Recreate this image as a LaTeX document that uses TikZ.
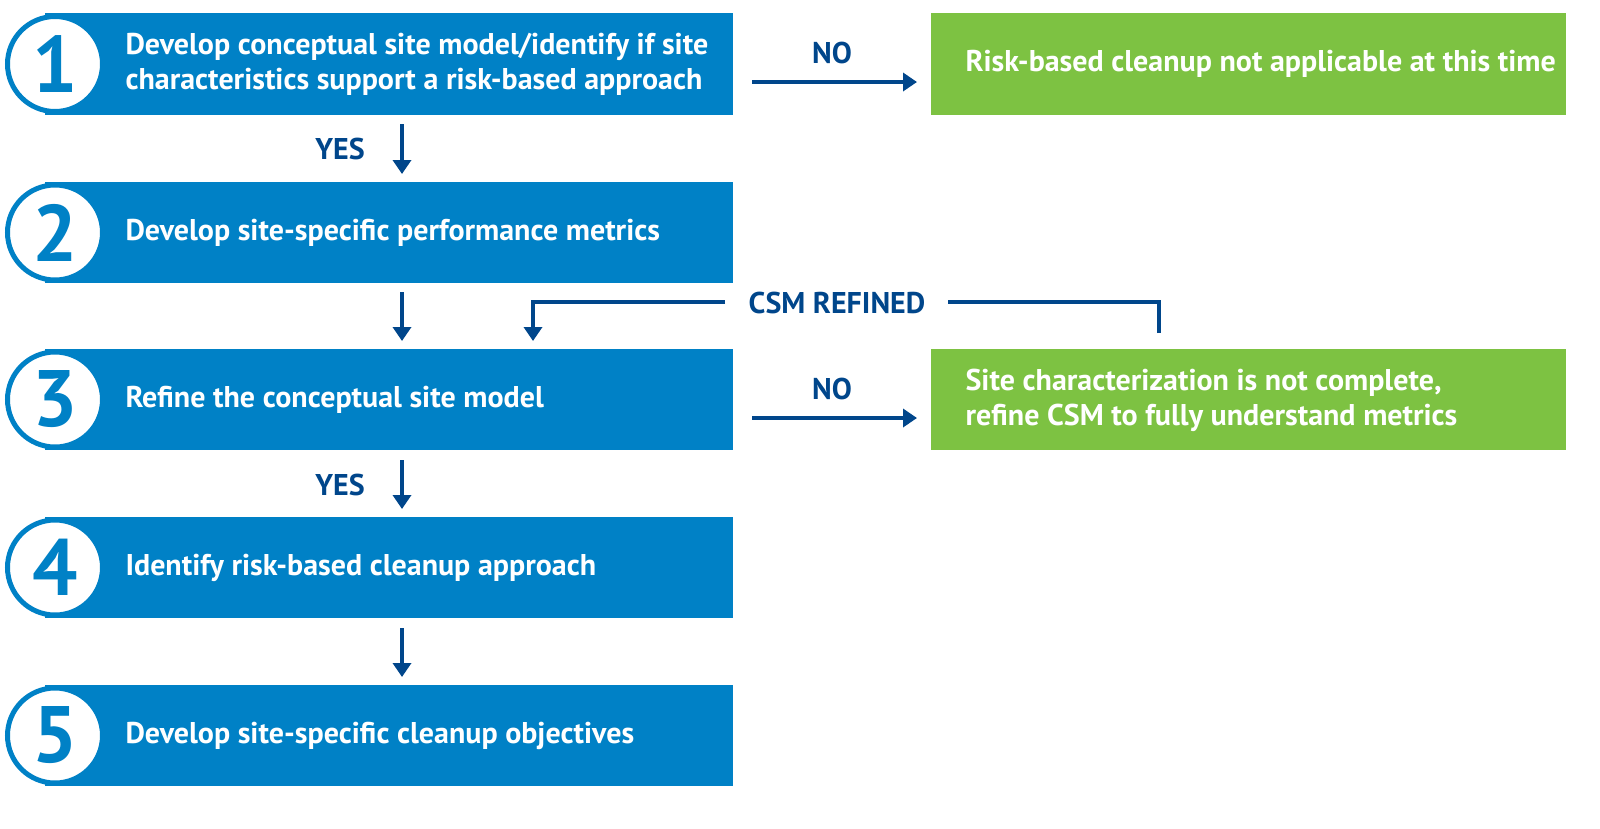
\documentclass[tikz,border=0pt]{standalone}
\usepackage{fontspec}
\setmainfont{PT Sans}
\usetikzlibrary{arrows.meta}
\definecolor{bx}{HTML}{0081C6}
\definecolor{ar}{HTML}{00468B}
\definecolor{gr}{HTML}{7DC242}
\begin{document}
\begin{tikzpicture}[x=1pt,y=-1pt,
 box/.style={fill=bx,inner sep=0},
 gbox/.style={fill=gr,inner sep=0},
 txt/.style={text=white,font=\bfseries\fontsize{30}{35}\selectfont,align=left,anchor=west},
 num/.style={circle,draw=bx,line width=5pt,fill=white,minimum size=95pt,inner sep=0,text=bx,font=\bfseries\fontsize{80}{80}\selectfont},
 arr/.style={draw=ar,line width=4pt,-{Triangle[length=14pt,width=18pt]}},
 lin/.style={draw=ar,line width=4pt},
 lab/.style={text=ar,font=\bfseries\fontsize{30}{30}\selectfont}]
\useasboundingbox (0,0) rectangle (1600,828);
\foreach \i/\t/\b/\s in {1/13/115/{Develop conceptual site model/identify if site\\characteristics support a risk-based approach},
 2/182/283/{Develop site-specific performance metrics},
 3/349/450/{Refine the conceptual site model},
 4/517/618/{Identify risk-based cleanup approach},
 5/685/786/{Develop site-specific cleanup objectives}}{
 \path[box] (45,\t) rectangle (733,\b) coordinate (b\i);
 \node[num] (c\i) at (55,{(\t+\b)/2}) {\i};
 \node[txt] (t\i) at (122,{(\t+\b)/2}) {\s};
}
\path[gbox] (931,13) rectangle (1566,115);
\node[txt] (g1) at (962,64) {Risk-based cleanup not applicable at this time};
\path[gbox] (931,349) rectangle (1566,450);
\node[txt] (g2) at (962,400) {Site characterization is not complete,\\refine CSM to fully understand metrics};
\coordinate (g1w) at (917,82); \coordinate (n1s) at (752,82);
\coordinate (g2w) at (917,418); \coordinate (n2s) at (752,418);
\draw[arr] (n1s) -- (g1w);
\node[lab] (no1) at (832,53) {NO};
\draw[arr] (n2s) -- (g2w);
\node[lab] (no2) at (832,389) {NO};
\coordinate (a1) at (402,124); \coordinate (a1e) at (402,174);
\coordinate (a2) at (402,292); \coordinate (a2e) at (402,341);
\coordinate (a3) at (402,460); \coordinate (a3e) at (402,509);
\coordinate (a4) at (402,628); \coordinate (a4e) at (402,677);
\draw[arr] (a1) -- (a1e); \draw[arr] (a2) -- (a2e);
\draw[arr] (a3) -- (a3e); \draw[arr] (a4) -- (a4e);
\node[lab] (y1) at (340,149) {YES};
\node[lab] (y3) at (340,485) {YES};
\node[lab] (csm) at (837,303) {CSM REFINED};
\coordinate (r0) at (1159,333); \coordinate (r1) at (1159,302); \coordinate (r2) at (948,302);
\coordinate (l0) at (725,302); \coordinate (l1) at (533,302); \coordinate (l2) at (533,341);
\draw[lin] (r0) -- (r1) -- (r2);
\draw[arr] (l0) -- (l1) -- (l2);
\end{tikzpicture}
\end{document}
